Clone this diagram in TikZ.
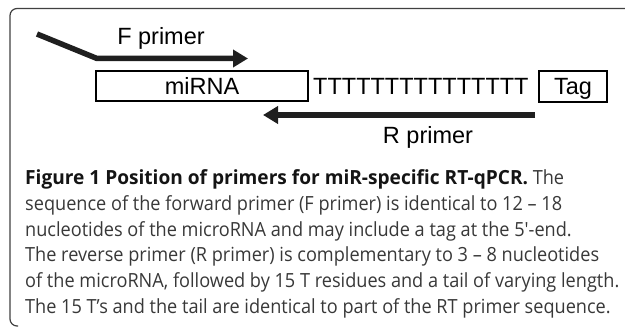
\documentclass[tikz,border=0pt]{standalone}
\usepackage{fontspec}
\setmainfont{Liberation Sans}
\newfontfamily\capfont[FakeStretch=0.93, BoldFeatures={FakeStretch=0.98}]{Open Sans}
\usetikzlibrary{arrows.meta}
\tikzset{>=stealth}
\tikzset{
  primer/.style = {line width=5.5pt, black!88, -{Triangle[length=15pt, width=17pt]}},
  seqbox/.style = {draw, line width=1.4pt, inner sep=0pt, minimum height=30pt,
                   text height=16.8pt, text depth=0pt, font=\fontsize{23.5}{28}\selectfont},
  lbl/.style = {inner sep=0pt, anchor=base, font=\fontsize{23.5}{28}\selectfont},
  captxt/.style = {inner sep=0pt, anchor=base west, text=black!78,
                   font=\capfont\fontsize{19.5}{25.6}\selectfont}
}

\begin{document}
\begin{tikzpicture}[x=1pt, y=-1pt]
	\useasboundingbox (0,0) rectangle (625,329);
	\draw [line width=1.2pt, black!75, rounded corners=7pt] (625,8.5) -- (10,8.5) -- (10,326) -- (18,326);
	% miRNA, poly-T stretch and tag
	\node [seqbox, minimum width=212pt] (mirna) at (202,86) {miRNA};
	\node [lbl, anchor=base west] (tees) at (313,95) {TTTTTTTTTTTTTTT};
	\node [seqbox, minimum width=68pt, minimum height=31pt] (tag) at (573,86.5) {Tag};
	% primers
	\coordinate (f0) at (37,34);
	\coordinate (f1) at (97,58.5);
	\coordinate (f2) at (248,58.5);
	\draw [primer, line join=round] (f0) -- (f1) -- (f2);
	\node [lbl] (flabel) at (161,45) {F primer};
	\coordinate (r0) at (535,115);
	\coordinate (r1) at (263,115);
	\draw [primer] (r0) -- (r1);
	\node [lbl] (rlabel) at (428,143) {R primer};
	% caption
	\foreach \i/\txt in {0/{{\color{black!92}\bfseries Figure 1 Position of primers for miR-specific RT-qPCR.} The},
		1/{sequence of the forward primer (F primer) is identical to 12 – 18},
		2/{nucleotides of the microRNA and may include a tag at the 5′-end.},
		3/{The reverse primer (R primer) is complementary to 3 – 8 nucleotides},
		4/{of the microRNA, followed by 15 T residues and a tail of varying length.},
		5/{The 15 T’s and the tail are identical to part of the RT primer sequence.}}
	\node [captxt] (cap\i) at (25,185+25.6*\i) {\txt};
\end{tikzpicture}
\end{document}
